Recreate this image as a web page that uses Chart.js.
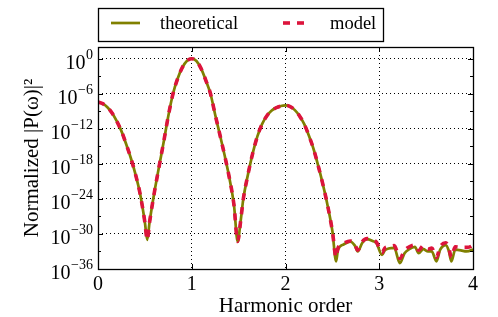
<!DOCTYPE html>
<html>
<head>
<meta charset="utf-8">
<script src="https://cdn.jsdelivr.net/npm/chart.js@4.4.0/dist/chart.umd.min.js"></script>
<style>
  html, body { margin: 0; padding: 0; background: #fff; }
</style>
</head>
<body>
<canvas id="chart" width="498" height="317"></canvas>
<script>
// harmonic order (x)
const harmonic = [
  0, 0.05, 0.1, 0.15, 0.2, 0.25, 0.3, 0.35, 0.4, 0.45, 0.5, 0.525,
  0.55, 0.6, 0.65, 0.7, 0.75, 0.8, 0.85, 0.9, 0.95, 1.0,
  1.05, 1.1, 1.15, 1.2, 1.25, 1.3, 1.35, 1.4, 1.45, 1.49,
  1.52, 1.55, 1.6, 1.65, 1.7, 1.75, 1.8, 1.85, 1.9, 1.95, 2.0,
  2.05, 2.1, 2.15, 2.2, 2.25, 2.3, 2.35, 2.4, 2.45, 2.5, 2.54,
  2.56, 2.62, 2.69, 2.74, 2.77, 2.82, 2.87, 2.93, 2.97, 3.03,
  3.06, 3.1, 3.16, 3.22, 3.27, 3.32, 3.38, 3.42, 3.47, 3.52,
  3.56, 3.61, 3.65, 3.71, 3.74, 3.77, 3.81, 3.87, 3.93, 3.99, 4.0
];

// log10 of normalized |P(w)|^2
const theoretical = [
  -7.4, -7.7, -8.3, -9.3, -10.7, -12.4, -14.6, -17.0, -19.8, -23.2, -28.0, -31.0,
  -28.0, -23.0, -18.6, -14.3, -9.8, -6.0, -3.4, -1.5, -0.35, 0,
  -0.4, -1.7, -3.7, -6.0, -9.6, -13.0, -16.5, -20.3, -25.0, -31.3,
  -28.0, -24.0, -19.8, -16.2, -13.3, -11.2, -9.8, -8.9, -8.4, -8.1, -8.0,
  -8.2, -8.8, -9.8, -11.2, -13.2, -15.5, -18.4, -21.6, -25.2, -29.5, -34.7,
  -32.7, -31.8, -31.3, -32.0, -33.0, -31.5, -30.9, -31.2, -31.6, -33.6,
  -32.8, -32.5, -32.4, -35.0, -33.3, -32.6, -32.2, -33.3, -32.6, -33.0,
  -33.0, -34.7, -32.7, -31.9, -32.8, -34.7, -32.7, -32.8, -33.0, -32.7, -32.6
];

const model = [
  -7.4, -7.7, -8.3, -9.3, -10.7, -12.4, -14.6, -17.0, -19.8, -23.2, -28.0, -31.0,
  -28.0, -23.0, -18.6, -14.3, -9.8, -6.0, -3.4, -1.5, -0.35, 0,
  -0.4, -1.7, -3.7, -6.0, -9.6, -13.0, -16.5, -20.3, -25.0, -31.3,
  -28.0, -24.0, -19.8, -16.2, -13.3, -11.2, -9.8, -8.9, -8.4, -8.1, -8.0,
  -8.2, -8.8, -9.8, -11.2, -13.2, -15.5, -18.4, -21.6, -25.2, -29.5, -34.0,
  -32.4, -31.6, -31.2, -31.8, -32.8, -31.3, -30.8, -31.0, -31.4, -33.2,
  -32.4, -32.2, -32.0, -34.2, -32.8, -32.2, -31.9, -32.8, -32.0, -32.6,
  -32.4, -34.0, -32.2, -31.5, -32.3, -34.0, -32.2, -32.3, -32.3, -32.0, -31.8
];

const xTicks = [0, 1, 2, 3, 4];
const yTicks = [-36, -30, -24, -18, -12, -6, 0];
const yMinorTicks = [-33, -27, -21, -15, -9, -3];

const SERIF = '"Liberation Serif", "DejaVu Serif", serif';

// inward ticks, frame, y tick labels with superscripts, legend box
const framePlugin = {
  id: 'frame',
  afterDatasetsDraw(chart) {
    const { ctx, chartArea: a, scales } = chart;
    ctx.save();
    ctx.strokeStyle = '#000';
    ctx.lineWidth = 1;
    ctx.beginPath();
    for (const v of yTicks) {
      const y = Math.round(scales.y.getPixelForValue(v)) + 0.5;
      ctx.moveTo(a.left, y); ctx.lineTo(a.left + 5, y);
      ctx.moveTo(a.right, y); ctx.lineTo(a.right - 5, y);
    }
    for (const v of yMinorTicks) {
      const y = Math.round(scales.y.getPixelForValue(v)) + 0.5;
      ctx.moveTo(a.left, y); ctx.lineTo(a.left + 3, y);
      ctx.moveTo(a.right, y); ctx.lineTo(a.right - 3, y);
    }
    for (const v of xTicks) {
      const x = Math.round(scales.x.getPixelForValue(v)) + 0.5;
      ctx.moveTo(x, a.bottom); ctx.lineTo(x, a.bottom - 5);
      ctx.moveTo(x, a.top); ctx.lineTo(x, a.top + 5);
    }
    ctx.stroke();
    ctx.lineWidth = 1.3;
    ctx.strokeRect(Math.round(a.left) + 0.5, Math.round(a.top) + 0.5,
      Math.round(a.right - a.left), Math.round(a.bottom - a.top));

    // y tick labels: 10 with a raised exponent
    ctx.fillStyle = '#000';
    ctx.textAlign = 'right';
    ctx.textBaseline = 'alphabetic';
    const xr = a.left - 5;
    for (const v of yTicks) {
      const y = scales.y.getPixelForValue(v);
      const exp = v < 0 ? '\u2212' + String(-v) : String(v);
      ctx.font = '14px ' + SERIF;
      const ew = ctx.measureText(exp).width;
      ctx.fillText(exp, xr, y);
      ctx.font = '20px ' + SERIF;
      ctx.fillText('10', xr - ew - 0.5, y + 10);
    }
    ctx.restore();
  },
  afterDraw(chart) {
    const { ctx } = chart;
    const ds = chart.data.datasets;
    ctx.save();
    ctx.fillStyle = '#fff';
    ctx.fillRect(98.5, 8.5, 285, 33);
    ctx.strokeStyle = '#000';
    ctx.lineWidth = 1.3;
    ctx.strokeRect(98.5, 8.5, 285, 33);
    // theoretical sample
    ctx.strokeStyle = ds[0].borderColor;
    ctx.lineWidth = ds[0].borderWidth;
    ctx.beginPath(); ctx.moveTo(111, 23); ctx.lineTo(140, 23); ctx.stroke();
    // model sample
    ctx.strokeStyle = ds[1].borderColor;
    ctx.lineWidth = ds[1].borderWidth;
    ctx.setLineDash([7, 7]);
    ctx.beginPath(); ctx.moveTo(283, 23); ctx.lineTo(306, 23); ctx.stroke();
    ctx.setLineDash([]);
    ctx.fillStyle = '#000';
    ctx.font = '18.5px ' + SERIF;
    ctx.textBaseline = 'middle';
    ctx.fillText(ds[0].label, 160, 24);
    ctx.fillText(ds[1].label, 330, 24);
    ctx.restore();
  }
};

new Chart(document.getElementById('chart'), {
  type: 'line',
  data: {
    datasets: [
      {
        label: 'theoretical',
        data: harmonic.map((x, i) => ({ x, y: theoretical[i] })),
        borderColor: '#808000',
        borderWidth: 2.7,
        pointRadius: 0,
        cubicInterpolationMode: 'monotone',
        fill: false,
        order: 2
      },
      {
        label: 'model',
        data: harmonic.map((x, i) => ({ x, y: model[i] })),
        borderColor: '#dc143c',
        borderWidth: 3.6,
        borderDash: [7, 7],
        pointRadius: 0,
        cubicInterpolationMode: 'monotone',
        fill: false,
        order: 1
      }
    ]
  },
  options: {
    responsive: false,
    animation: false,
    devicePixelRatio: 1,
    layout: { padding: { top: 47, right: 25, left: 0, bottom: 0 } },
    plugins: { legend: { display: false }, tooltip: { enabled: false } },
    scales: {
      x: {
        type: 'linear',
        min: 0, max: 4,
        afterBuildTicks: s => { s.ticks = xTicks.map(v => ({ value: v })); },
        afterFit: s => { s.height = 48; },
        ticks: { color: '#000', padding: 4, font: { family: SERIF, size: 20 } },
        grid: {
          drawTicks: false,
          lineWidth: 1,
          color: c => (c.tick && (c.tick.value === 0 || c.tick.value === 4)) ? 'rgba(0,0,0,0)' : '#000'
        },
        border: { display: false, dash: [1, 3] },
        title: {
          display: true, text: 'Harmonic order', color: '#000',
          font: { family: SERIF, size: 21 }, padding: { top: 0, bottom: -2 }
        }
      },
      y: {
        type: 'linear',
        min: -36, max: 2,
        afterBuildTicks: s => { s.ticks = yTicks.map(v => ({ value: v })); },
        afterFit: s => { s.width = 98; },
        ticks: { color: '#000', padding: 5, font: { family: SERIF, size: 20 }, callback: () => '' },
        grid: {
          drawTicks: false,
          lineWidth: 1,
          color: c => (c.tick && c.tick.value === -36) ? 'rgba(0,0,0,0)' : '#000'
        },
        border: { display: false, dash: [1, 3] },
        title: {
          display: true, text: 'Normalized |P(ω)|²', color: '#000',
          font: { family: SERIF, size: 21 }, padding: { top: 20, bottom: 0 }
        }
      }
    }
  },
  plugins: [framePlugin]
});
</script>
</body>
</html>
